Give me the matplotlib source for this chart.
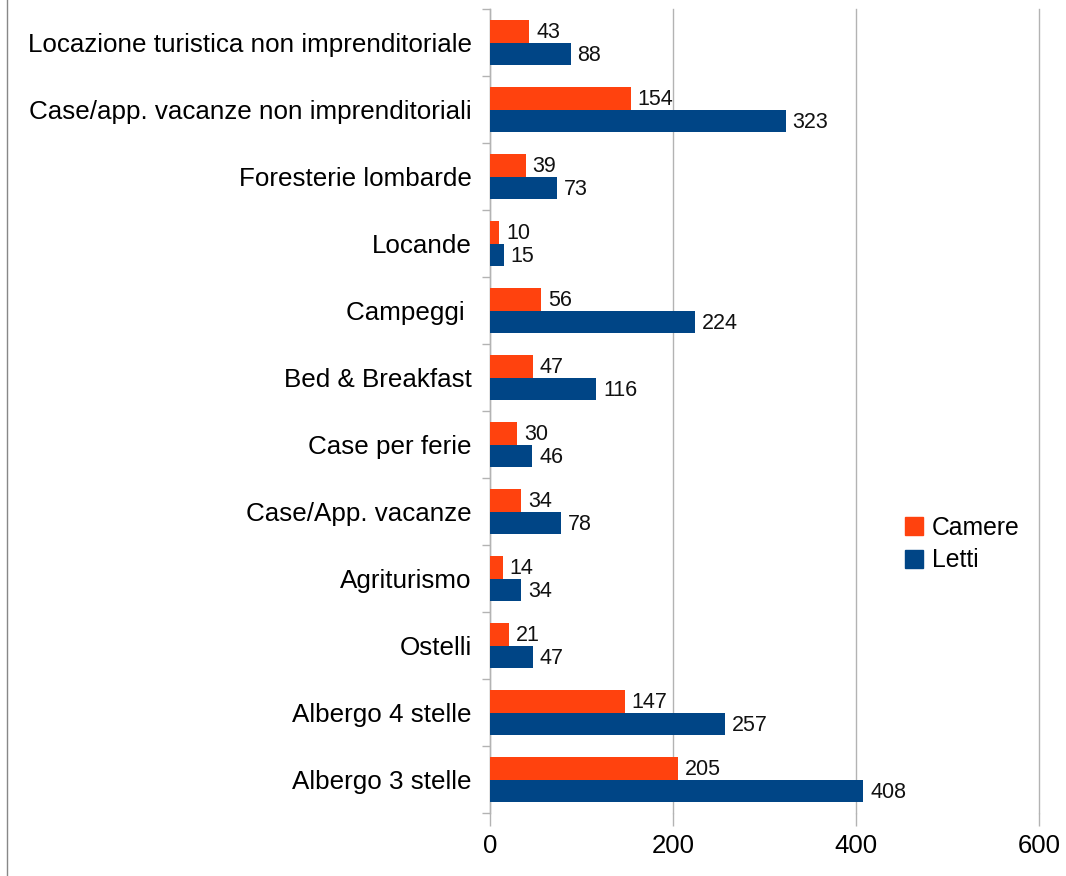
import matplotlib
matplotlib.use("Agg")
import matplotlib.pyplot as plt
from matplotlib.lines import Line2D
from matplotlib.patches import Patch
import numpy as np

plt.rcParams['font.family'] = ['Liberation Sans', 'DejaVu Sans']

categories = ["Locazione turistica non imprenditoriale",
              "Case/app. vacanze non imprenditoriali",
              "Foresterie lombarde",
              "Locande",
              "Campeggi ",
              "Bed & Breakfast",
              "Case per ferie",
              "Case/App. vacanze",
              "Agriturismo",
              "Ostelli",
              "Albergo 4 stelle",
              "Albergo 3 stelle"]
camere = [43, 154, 39, 10, 56, 47, 30, 34, 14, 21, 147, 205]
letti = [88, 323, 73, 15, 224, 116, 46, 78, 34, 47, 257, 408]
xticks = [0, 200, 400, 600]

c_cam = "#ff420e"
c_let = "#004586"
grid_c = "#b3b3b3"

fig = plt.figure(figsize=(10.66, 8.76), dpi=100)
ax = fig.add_axes([490/1066, 1-813/876, (1039-490)/1066, (813-9)/876])

n = len(categories)
y = np.arange(n)
h = 0.343
ax.barh(y - h/2, camere, height=h, color=c_cam, zorder=3)
ax.barh(y + h/2, letti, height=h, color=c_let, zorder=3)

for yi, v in zip(y, camere):
    ax.annotate(str(v), (v, yi - h/2), xytext=(5, -1), textcoords="offset points",
                va="center", ha="left", fontsize=15.5, color="#111111")
for yi, v in zip(y, letti):
    ax.annotate(str(v), (v, yi + h/2), xytext=(5, -1), textcoords="offset points",
                va="center", ha="left", fontsize=15.5, color="#111111")

ax.set_xlim(0, 600)
ax.set_ylim(n - 0.5, -0.5)
ax.set_xticks(xticks)
ax.set_xticklabels([str(t) for t in xticks], fontsize=18.5)
ax.set_yticks(y)
ax.set_yticklabels(categories, fontsize=18.7)
ax.set_yticks(np.arange(-0.5, n, 1), minor=True)
ax.tick_params(axis='y', which='major', length=0, pad=13)
ax.tick_params(axis='y', which='minor', length=6, color=grid_c, width=1)
ax.tick_params(axis='x', which='major', length=9, color=grid_c, width=1, pad=6)
ax.xaxis.grid(True, color=grid_c, linewidth=1, zorder=0)
for gl in ax.get_xgridlines():
    gl.set_clip_on(False)
ax.set_axisbelow(True)
for s in ['top', 'right', 'bottom']:
    ax.spines[s].set_visible(False)
ax.spines['left'].set_color(grid_c)
ax.spines['left'].set_linewidth(1)

handles = [Patch(facecolor=c_cam, edgecolor=c_cam), Patch(facecolor=c_let, edgecolor=c_let)]
leg = fig.legend(handles, ["Camere", "Letti"], loc="center left",
                 bbox_to_anchor=(895/1066, 1-544/876), frameon=False,
                 fontsize=17.8, handlelength=0.75, handleheight=0.75,
                 handletextpad=0.35, labelspacing=0.35, borderaxespad=0)

fig.add_artist(Line2D([7/1066, 7/1066], [0, 1], color="#888888", linewidth=1,
                      transform=fig.transFigure))

fig.savefig("out.png", dpi=100, facecolor="white")
